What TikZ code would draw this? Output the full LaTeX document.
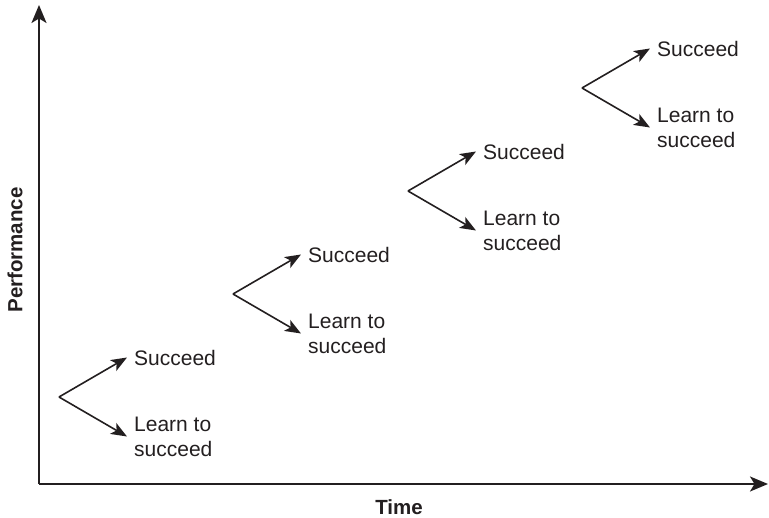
\documentclass[tikz,border=0pt]{standalone}
\usepackage{fontspec}
\setmainfont{Liberation Sans}
\usetikzlibrary{arrows.meta}
\definecolor{ink}{HTML}{231F20}
\begin{document}
\begin{tikzpicture}[x=1pt,y=-1pt,
  axis/.style={draw=ink,line width=2pt,-{Stealth[length=18pt,width=15pt,inset=4.5pt]}},
  branch/.style={draw=ink,line width=1.6pt,-{Stealth[length=16pt,width=12.5pt,inset=4pt]}},
  lbl/.style={text=ink,font=\fontsize{21}{25}\selectfont,anchor=west,inner xsep=7pt,inner ysep=0pt,align=left},
  axlbl/.style={text=ink,font=\fontsize{20.5}{24}\selectfont\bfseries,inner sep=0pt}]
\useasboundingbox (0,0) rectangle (769,518);
\coordinate (O) at (39,484);
\coordinate (Ytop) at (39,5);
\coordinate (Xend) at (768,484);
\draw[axis] (O) -- (Ytop);
\draw[axis] (O) -- (Xend);
\node[axlbl,rotate=90] (perf) at (15,250) {Performance};
\node[axlbl] (time) at (399,507) {Time};
\foreach \i/\bx/\by in {1/59/397, 2/233/294, 3/408/191, 4/582/88} {
  \coordinate (b\i) at (\bx,\by);
  \node[lbl] (s\i) at (\bx+68,\by-39.5) {Succeed};
  \node[lbl] (l\i) at (\bx+68,\by+39.5) {Learn to\\succeed};
  \draw[branch] (b\i) -- (s\i.west);
  \draw[branch] (b\i) -- (l\i.west);
}
\end{tikzpicture}
\end{document}
